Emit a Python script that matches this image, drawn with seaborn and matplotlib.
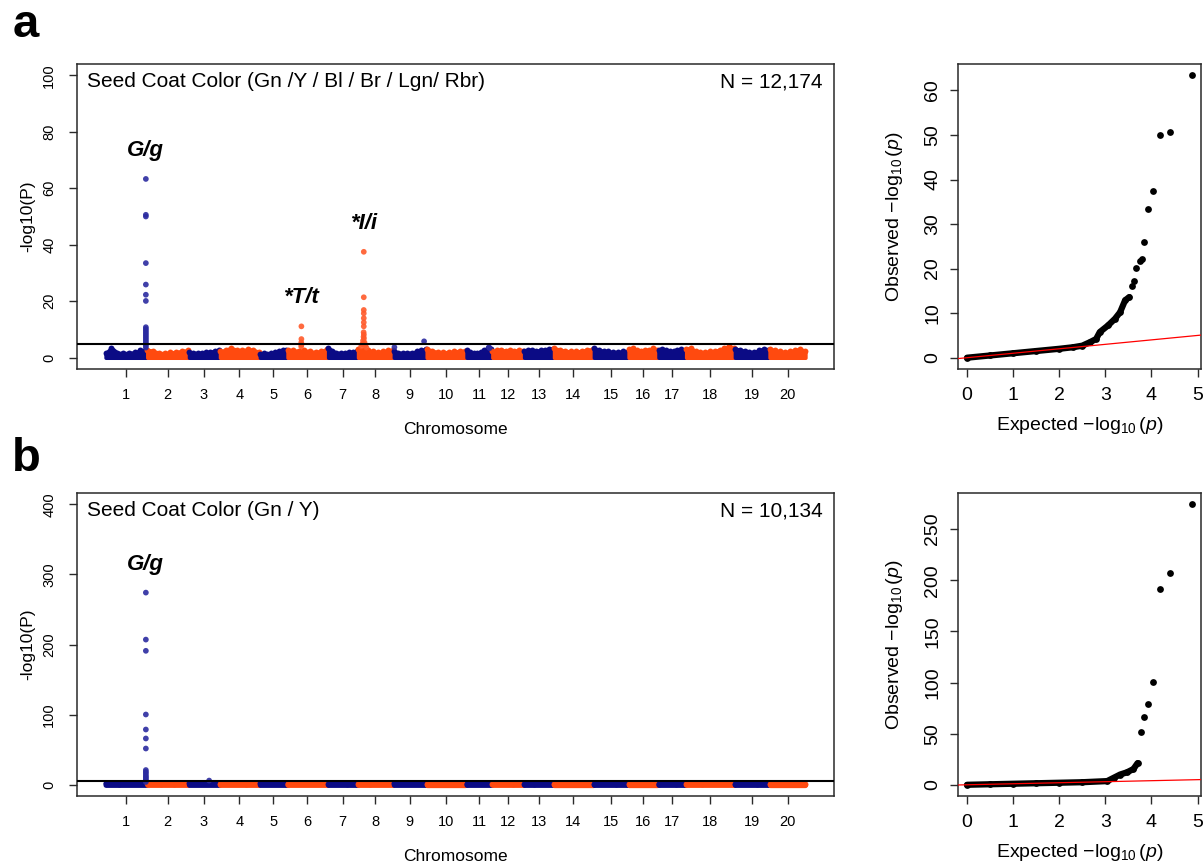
import numpy as np
import pandas as pd
import matplotlib
matplotlib.use("Agg")
import matplotlib.pyplot as plt
import seaborn as sns

sns.set_theme(style="white")
plt.rcParams['font.family'] = ['Liberation Sans', 'DejaVu Sans']
plt.rcParams['mathtext.fontset'] = 'custom'
plt.rcParams['mathtext.rm'] = 'Liberation Sans'
plt.rcParams['mathtext.it'] = 'Liberation Sans:italic'
plt.rcParams['mathtext.bf'] = 'Liberation Sans:bold'
for k in ['text.color', 'axes.labelcolor', 'xtick.color', 'ytick.color']:
    plt.rcParams[k] = 'black'

# ---------------- data ----------------
chromosomes = list(range(1, 21))
chrom_len_mb = [56.5, 56.5, 42, 54, 37.5, 55, 40.5, 48.5, 44.5, 54,
                35, 43, 40.5, 54, 47, 40.5, 37.5, 66, 47, 50]

# background signal envelope (-log10 P) along each chromosome, panel a
bg_a = [
    [1.6, 3.5, 1.8, 1.6, 1.7, 1.9, 2.6, 2.9],
    [2.8, 2.4, 1.7, 1.6, 1.9, 2.0, 2.4, 2.6],
    [2.0, 1.8, 1.6, 1.8, 1.9, 2.1, 2.4, 2.6],
    [2.2, 2.8, 3.4, 2.8, 2.6, 3.0, 2.8, 2.0],
    [1.4, 1.6, 1.4, 1.7, 1.9, 2.2, 2.6, 2.8],
    [2.8, 2.6, 2.4, 2.6, 2.2, 2.0, 2.4, 3.0],
    [3.6, 2.4, 1.8, 1.6, 1.7, 2.0, 2.0, 2.2],
    [3.0, 2.8, 2.6, 2.2, 2.0, 2.2, 2.6, 2.8],
    [2.4, 1.8, 1.6, 1.7, 1.8, 2.2, 2.6, 3.2],
    [3.2, 2.4, 2.0, 1.9, 2.0, 2.2, 2.4, 2.4],
    [2.6, 2.0, 1.7, 1.8, 2.0, 2.6, 3.4, 3.0],
    [2.2, 2.6, 2.8, 2.4, 2.8, 2.4, 2.7, 2.4],
    [2.4, 2.8, 2.6, 2.4, 2.7, 2.8, 3.1, 3.2],
    [3.4, 2.8, 2.4, 2.2, 2.2, 2.4, 2.8, 3.0],
    [3.4, 2.8, 2.4, 2.2, 2.0, 2.0, 2.2, 1.9],
    [3.0, 3.4, 2.6, 2.4, 2.6, 2.8, 3.4, 2.8],
    [2.8, 3.2, 2.6, 2.2, 2.2, 2.6, 3.0, 2.4],
    [3.2, 3.4, 2.2, 2.0, 2.0, 2.2, 2.4, 2.8, 3.4, 4.0, 3.6],
    [3.2, 2.8, 2.4, 2.0, 2.0, 2.6, 3.2, 2.8],
    [3.2, 2.6, 2.2, 2.0, 2.2, 2.8, 3.0, 2.4],
]
# background envelope, panel b
bg_b = [
    [2.0, 1.5, 2.0, 2.5], [2.0, 1.5, 1.5, 2.0], [2.5, 2.0, 3.0, 2.0],
    [1.5, 2.0, 1.5, 1.5], [2.0, 2.5, 2.0, 1.5], [1.5, 2.0, 2.0, 1.5],
    [1.5, 2.0, 1.5, 1.5], [1.5, 1.5, 2.0, 1.5], [2.0, 2.5, 2.0, 1.5],
    [1.5, 1.5, 1.5, 1.5], [1.5, 2.0, 2.5, 1.5], [1.5, 2.0, 1.5, 1.5],
    [1.5, 1.5, 2.0, 1.5], [1.5, 1.5, 1.5, 1.5], [1.5, 2.0, 1.5, 1.5],
    [1.5, 1.5, 1.5, 1.5], [1.5, 2.0, 1.5, 1.5], [1.5, 1.5, 2.0, 1.5],
    [1.5, 2.0, 1.5, 1.5], [1.5, 1.5, 1.5, 1.5],
]

# notable SNPs, panel a
snp_a_chr = [1]*20 + [6]*5 + [8]*17 + [9, 9, 11, 11]
snp_a_pos = ([55.3]*20 +
             [19.5, 19.5, 19.3, 19.6, 19.2] +
             [8.5, 8.5, 8.5, 8.5, 8.5, 8.5, 8.5, 8.3, 8.6, 8.2, 8.7, 7.5, 9.5, 6.5, 10.5, 5.0, 12.0] +
             [1.5, 41.7, 31.0, 32.0])
snp_a_val = ([63.3, 50.6, 50.0, 33.5, 25.9, 22.3, 20.1, 10.8, 10.2, 9.6,
              9.0, 8.4, 7.8, 7.2, 6.6, 6.0, 5.4, 4.8, 4.2, 3.6] +
             [11.1, 6.6, 5.4, 4.6, 4.0] +
             [37.5, 21.4, 16.9, 15.7, 14.0, 12.5, 11.1, 9.0, 8.2, 7.4, 6.8, 6.0, 5.4, 4.8, 4.4, 4.0, 3.6] +
             [3.7, 5.8, 3.7, 3.4])

# notable SNPs, panel b
snp_b_chr = [1]*16 + [3]
snp_b_pos = [55.3]*16 + [28.0]
snp_b_val = [274.0, 207.0, 191.0, 100.2, 78.8, 66.0, 51.7, 21.0, 18.5,
             16.6, 14.0, 11.8, 10.0, 8.0, 6.0, 4.0, 6.0]

threshold_a = 5.0
threshold_b = 4.8

gene_a_text = ["G/g", "*T/t", "*I/i"]
gene_a_chr = [1, 6, 8]
gene_a_pos = [55.3, 19.5, 8.5]
gene_a_val = [63.3, 11.1, 37.5]
gene_b_text = ["G/g"]
gene_b_chr = [1]
gene_b_pos = [55.3]
gene_b_val = [274.0]

title_a = "Seed Coat Color (Gn /Y / Bl / Br / Lgn/ Rbr)"
count_a = "N = 12,174"
title_b = "Seed Coat Color (Gn / Y)"
count_b = "N = 10,134"

# QQ data (expected, observed -log10 p)
qq_a_expected = [0.0, 0.5, 1.0, 1.5, 2.0, 2.3, 2.5, 2.67, 2.8, 2.88, 3.06, 3.21, 3.32,
                 3.43, 3.52, 3.57, 3.62, 3.66, 3.75, 3.80, 3.84, 3.93, 4.03, 4.18, 4.41, 4.88]
qq_a_observed = [0.0, 0.5, 1.0, 1.5, 2.0, 2.35, 2.7, 3.5, 4.2, 5.75, 7.25, 8.75, 10.2,
                 12.9, 13.6, 16.2, 17.2, 20.1, 21.6, 22.2, 26.0, 33.4, 37.4, 50.0, 50.6, 63.4]
qq_a_dense = 15
qq_b_expected = [0.0, 0.5, 1.0, 1.5, 2.0, 2.5, 3.04, 3.18, 3.32, 3.47, 3.61, 3.70,
                 3.77, 3.84, 3.93, 4.03, 4.18, 4.41, 4.88]
qq_b_observed = [0.0, 0.5, 1.0, 1.5, 2.0, 2.5, 3.6, 6.8, 10.0, 12.2, 15.4, 21.2,
                 51.4, 66.4, 79.1, 100.6, 191.1, 207.3, 274.4]
qq_b_dense = 12

# ---------------- styling ----------------
NAVY = "#0b0b85"
ORANGE = "#ff4a0f"
SPINE = "#2a2a2a"

lens = np.array(chrom_len_mb, dtype=float)
starts = np.concatenate([[0.0], np.cumsum(lens)[:-1]])
mids = starts + lens / 2
total = lens.sum()

fig = plt.figure(figsize=(12.04, 8.67), dpi=100)
W, H = 1204.0, 867.0


def box_axes(l, t, r, b):
    return fig.add_axes([l / W, 1 - b / H, (r - l) / W, (b - t) / H])


def style_box(ax):
    for s in ax.spines.values():
        s.set_visible(True)
        s.set_color(SPINE)
        s.set_linewidth(1.1)
    ax.grid(False)
    ax.set_facecolor("white")


def manhattan(ax, bg, s_chr, s_pos, s_val, thr, ymax, yticks, title, count,
              g_text, g_chr, g_pos, g_val, band_lw):
    style_box(ax)
    for i, env in enumerate(bg):
        c = NAVY if chromosomes[i] % 2 == 1 else ORANGE
        xs = np.linspace(starts[i] + 0.8, starts[i] + lens[i] - 0.8, len(env))
        ax.fill_between(xs, 0, env, color=c, lw=band_lw, edgecolor=c, zorder=2)
        sns.scatterplot(x=xs, y=env, color=c, s=18, linewidth=0, ax=ax, zorder=2, legend=False)
    df = pd.DataFrame({"chr": s_chr, "pos": s_pos, "val": s_val})
    df["x"] = [starts[c - 1] + p for c, p in zip(df["chr"], df["pos"])]
    df["grp"] = ["odd" if c % 2 == 1 else "even" for c in df["chr"]]
    sns.scatterplot(data=df, x="x", y="val", hue="grp",
                    palette={"odd": "#2b2ba0", "even": "#ff5a2a"},
                    s=17, linewidth=0, alpha=0.9, ax=ax, legend=False, zorder=3)
    ax.axhline(thr, color="black", lw=1.5, zorder=4)
    ax.set_xlim(-0.04 * total, total * 1.04)
    ax.set_ylim(-0.04 * ymax, ymax * 1.04)
    ax.set_xticks(mids)
    ax.set_xticklabels([str(c) for c in chromosomes])
    ax.set_yticks(yticks)
    ax.set_yticklabels([str(v) for v in yticks])
    ax.tick_params(axis="both", direction="out", length=6, width=1, color=SPINE,
                   labelsize=10.5, bottom=True, left=True)
    ax.tick_params(axis="x", pad=8)
    ax.tick_params(axis="y", pad=9, labelrotation=90)
    for lbl in ax.get_yticklabels():
        lbl.set_va("center")
    ax.set_xlabel("Chromosome", fontsize=12.5, labelpad=14)
    ax.set_ylabel("-log10(P)", fontsize=12.5, labelpad=5)
    ax.text(0.013, 0.941, title, transform=ax.transAxes, ha="left", va="center", fontsize=15)
    ax.text(0.985, 0.941, count, transform=ax.transAxes, ha="right", va="center", fontsize=15)
    for t, c, p, v in zip(g_text, g_chr, g_pos, g_val):
        ax.annotate(t, xy=(starts[c - 1] + p, v), xytext=(0, 20.5), textcoords="offset points",
                    ha="center", va="center", fontsize=16, fontweight="bold", fontstyle="italic")


def qqplot(ax, ex, ob, ndense, ymax, yticks):
    style_box(ax)
    sns.lineplot(x=ex[:ndense], y=ob[:ndense], color="black", lw=4.5, sort=False,
                 ax=ax, zorder=2, solid_capstyle="round")
    sns.scatterplot(x=ex, y=ob, color="black", s=24, linewidth=0, ax=ax, zorder=3, legend=False)
    ax.axline((0, 0), slope=1, color="red", lw=0.9, zorder=4)
    ax.set_xlim(-0.04 * 4.88, 4.88 * 1.04)
    ax.set_ylim(-0.04 * ymax, ymax * 1.04)
    ax.set_xticks([0, 1, 2, 3, 4, 5])
    ax.set_yticks(yticks)
    ax.tick_params(axis="both", direction="out", length=6, width=1, color=SPINE,
                   labelsize=14, bottom=True, left=True)
    ax.tick_params(axis="x", pad=7)
    ax.tick_params(axis="y", pad=6, labelrotation=90)
    for lbl in ax.get_yticklabels():
        lbl.set_va("center")
    ax.set_xlabel(r"Expected $-\log_{10}(p)$", fontsize=14, labelpad=8)
    ax.set_ylabel(r"Observed $-\log_{10}(p)$", fontsize=14, labelpad=14)


ax_a = box_axes(77, 64, 834, 369)
manhattan(ax_a, bg_a, snp_a_chr, snp_a_pos, snp_a_val, threshold_a, 100,
          [0, 20, 40, 60, 80, 100], title_a, count_a,
          gene_a_text, gene_a_chr, gene_a_pos, gene_a_val, band_lw=2.6)

ax_b = box_axes(77, 493, 834, 796)
manhattan(ax_b, bg_b, snp_b_chr, snp_b_pos, snp_b_val, threshold_b, 400,
          [0, 100, 200, 300, 400], title_b, count_b,
          gene_b_text, gene_b_chr, gene_b_pos, gene_b_val, band_lw=3.8)

ax_qa = box_axes(958, 64, 1201, 369)
qqplot(ax_qa, qq_a_expected, qq_a_observed, qq_a_dense, 63.4, [0, 10, 20, 30, 40, 50, 60])

ax_qb = box_axes(958, 493, 1201, 796)
qqplot(ax_qb, qq_b_expected, qq_b_observed, qq_b_dense, 274.4, [0, 50, 100, 150, 200, 250])

fig.text(13 / W, 1 - 37 / H, "a", fontsize=34, fontweight="bold", ha="left", va="baseline")
fig.text(12 / W, 1 - 471 / H, "b", fontsize=34, fontweight="bold", ha="left", va="baseline")

fig.savefig("out.png", dpi=100)
